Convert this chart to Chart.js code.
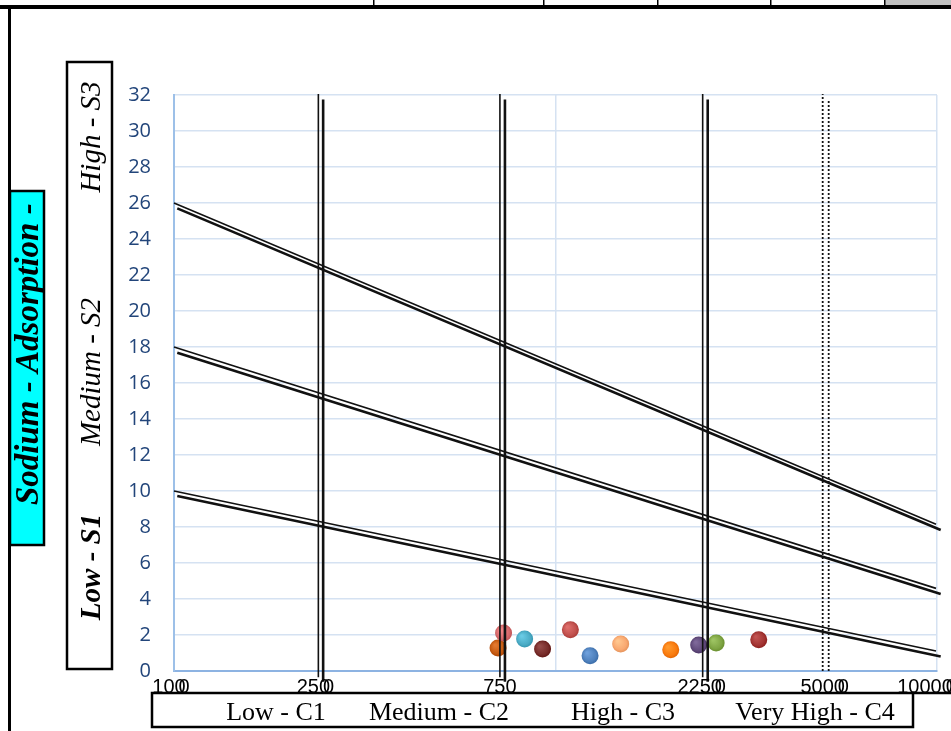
<!DOCTYPE html>
<html>
<head>
<meta charset="utf-8">
<script src="https://cdn.jsdelivr.net/npm/chart.js@4.4.1/dist/chart.umd.min.js"></script>
<style>
  html, body { margin: 0; padding: 0; background: #ffffff; overflow: hidden; }
  canvas { display: block; }
</style>
</head>
<body>
<canvas id="ussl" width="951" height="731"></canvas>
<script>
// Water samples: electrical conductivity (µS/cm) and sodium adsorption ratio
const sampleEC  = [707, 731, 830, 925, 1094, 1232, 1482, 2005, 2373, 2637, 3410];
const sampleSAR = [1.28, 2.11, 1.78, 1.22, 2.29, 0.85, 1.50, 1.18, 1.44, 1.56, 1.74];
const sampleColors = ['#C55A11', '#D5696B', '#4BACC6', '#772C2A', '#C0504D', '#4F81BD',
                      '#F9A870', '#F97B0F', '#604A7B', '#7FA544', '#A33533'];

// Sodium hazard boundaries (each drawn as a double stroke)
const sarS2S3Thin  = [[100, 26.0], [9941, 8.15]];
const sarS2S3Thick = [[102, 25.7], [10226, 7.83]];
const sarS1S2Thin  = [[100, 18.0], [9941, 4.59]];
const sarS1S2Thick = [[102, 17.68], [10226, 4.28]];
const sarS0S1Thin  = [[100, 10.0], [9941, 1.11]];
const sarS0S1Thick = [[102, 9.72], [10226, 0.80]];

// Salinity hazard boundaries (EC)
const ecBoundaryThin   = [239, 715, 2431];
const ecBoundaryThick  = [246, 737, 2506];
const ecBoundaryDotted = [5016, 5201];

// Axis text
const xTickLabels = ['100', '250', '750', '2250', '5000', '10000'];
const xTickAnchors = [100, 239, 715, 2431, 5016, 10000];
const salinityClasses = ['Low - C1', 'Medium - C2', 'High - C3', 'Very High - C4'];
const sodiumClasses = ['Low - S1', 'Medium - S2', 'High - S3'];
const sodiumTitle = 'Sodium - Adsorption -';

const pts = arr => arr.map(p => ({ x: p[0], y: p[1] }));
const lineSet = (data, width) => ({
  type: 'scatter', data: pts(data), showLine: true, borderColor: '#111111',
  borderWidth: width, pointRadius: 0, fill: false, clip: false, order: 0
});
const vLine = (x, y0, y1, width, dash) => ({
  type: 'scatter', data: [{ x: x, y: y0 }, { x: x, y: y1 }], showLine: true,
  borderColor: '#111111', borderWidth: width, borderDash: dash || [], pointRadius: 0,
  fill: false, clip: false, order: 0
});

// soft shaded marker fill
function shadeColor(hex, amt) {
  const n = parseInt(hex.slice(1), 16);
  const ch = s => Math.max(0, Math.min(255, Math.round(((n >> s) & 255) + amt)));
  return 'rgb(' + ch(16) + ',' + ch(8) + ',' + ch(0) + ')';
}
function markerFill(c) {
  const base = sampleColors[c.dataIndex];
  const chart = c.chart;
  if (!chart.scales || !chart.scales.x || !c.raw) return base;
  const px = chart.scales.x.getPixelForValue(c.raw.x);
  const py = chart.scales.y.getPixelForValue(c.raw.y);
  if (!isFinite(px) || !isFinite(py)) return base;
  const g = chart.ctx.createRadialGradient(px - 3, py - 3, 1, px, py, 9);
  g.addColorStop(0, shadeColor(base, 30));
  g.addColorStop(0.7, base);
  g.addColorStop(1, shadeColor(base, -25));
  return g;
}

const datasets = [
  lineSet(sarS2S3Thin, 1.6), lineSet(sarS2S3Thick, 2.6),
  lineSet(sarS1S2Thin, 1.6), lineSet(sarS1S2Thick, 2.6),
  lineSet(sarS0S1Thin, 1.6), lineSet(sarS0S1Thick, 2.6)
];
ecBoundaryThin.forEach(x => datasets.push(vLine(x, -0.35, 32.05, 1.6)));
ecBoundaryThick.forEach(x => datasets.push(vLine(x, -0.6, 31.75, 2.6)));
datasets.push(vLine(ecBoundaryDotted[0], 0, 32.05, 1.8, [2, 2]));
datasets.push(vLine(ecBoundaryDotted[1], 0, 31.75, 1.8, [2, 2]));
datasets.push({
  type: 'scatter',
  data: sampleEC.map((x, i) => ({ x: x, y: sampleSAR[i] })),
  pointRadius: 8.5, pointHoverRadius: 8.5,
  pointBackgroundColor: markerFill, pointBorderColor: 'rgba(0,0,0,0)', pointBorderWidth: 0,
  order: 1
});

// Frames, class boxes and hand-placed labels around the plot
const decorations = {
  id: 'decorations',
  afterDraw(chart) {
    const ctx = chart.ctx;
    const xs = chart.scales.x;
    ctx.save();

    // sheet border
    ctx.fillStyle = '#c0c0c0';
    ctx.fillRect(885, 0, 66, 5);
    ctx.fillStyle = '#000000';
    ctx.fillRect(0, 5, 951, 4);
    ctx.fillRect(8, 9, 3, 722);
    [373, 543, 657, 770, 884].forEach(x => ctx.fillRect(x, 0, 1.5, 6));

    // x tick labels
    ctx.font = '20px "Liberation Sans", Arial, sans-serif';
    ctx.fillStyle = '#000000';
    ctx.textAlign = 'center';
    ctx.textBaseline = 'alphabetic';
    const shifts = [-5, -5, 0, -3, 0, -12];
    xTickLabels.forEach((t, i) => {
      const cx = xs.getPixelForValue(xTickAnchors[i]) + shifts[i];
      ctx.fillText(t, cx, 693);
      if (t !== '750') {
        const w = ctx.measureText(t).width;
        const last = t.slice(-1);
        const lw = ctx.measureText(last).width;
        ctx.textAlign = 'left';
        ctx.fillText(last, cx + w / 2 - lw + 4, 693);
        ctx.textAlign = 'center';
      }
    });

    // salinity class box
    ctx.strokeStyle = '#000000';
    ctx.lineWidth = 2.5;
    ctx.fillStyle = '#ffffff';
    ctx.fillRect(152, 694, 761, 33);
    ctx.strokeRect(152, 693, 761, 34);
    ctx.beginPath();
    ctx.moveTo(913, 693);
    ctx.lineTo(951, 693);
    ctx.stroke();
    ctx.fillStyle = '#000000';
    ctx.font = '26px "Liberation Serif", "Times New Roman", serif';
    ctx.textAlign = 'center';
    [276, 439, 623, 815].forEach((cx, i) => ctx.fillText(salinityClasses[i], cx, 720));

    // sodium class box
    ctx.fillStyle = '#ffffff';
    ctx.fillRect(67, 62, 45, 607);
    ctx.strokeRect(67, 62, 45, 607);
    ctx.fillStyle = '#000000';
    const sodiumFonts = ['italic bold 29px "Liberation Serif", serif',
                         'italic 29px "Liberation Serif", serif',
                         'italic 29px "Liberation Serif", serif'];
    [567, 372, 137].forEach((cy, i) => {
      ctx.save();
      ctx.translate(100, cy);
      ctx.rotate(-Math.PI / 2);
      ctx.font = sodiumFonts[i];
      ctx.textAlign = 'center';
      ctx.fillText(sodiumClasses[i], 0, 0);
      ctx.restore();
    });

    // axis title box
    ctx.fillStyle = '#00FFFF';
    ctx.fillRect(10, 191, 34, 354);
    ctx.lineWidth = 2.5;
    ctx.strokeRect(10, 191, 34, 354);
    ctx.fillStyle = '#000000';
    ctx.save();
    ctx.translate(38, 505);
    ctx.rotate(-Math.PI / 2);
    ctx.font = 'italic bold 33px "Liberation Serif", serif';
    ctx.textAlign = 'left';
    ctx.fillText(sodiumTitle, 0, 0);
    ctx.restore();

    ctx.restore();
  }
};

new Chart(document.getElementById('ussl'), {
  type: 'scatter',
  data: { datasets: datasets },
  options: {
    responsive: false,
    animation: false,
    devicePixelRatio: 1,
    layout: { padding: { left: 0, right: 14, top: 95, bottom: 60 } },
    plugins: { legend: { display: false }, tooltip: { enabled: false } },
    scales: {
      x: {
        type: 'logarithmic', min: 100, max: 10000,
        afterBuildTicks: s => { s.ticks = [100, 1000, 10000].map(v => ({ value: v })); },
        afterFit: s => { s.height = 0; },
        ticks: { display: false },
        grid: { color: '#D5E2F2', lineWidth: 1.5, drawTicks: false },
        border: { color: '#8DB3E2', width: 2 }
      },
      y: {
        min: 0, max: 32,
        afterFit: s => { s.width = 174; },
        ticks: {
          stepSize: 2, padding: 23, color: '#22457A',
          font: { family: '"Open Sans", sans-serif', size: 20 }
        },
        grid: { color: '#D5E2F2', lineWidth: 1.5, drawTicks: false },
        border: { color: '#9DC0E8', width: 2 }
      }
    }
  },
  plugins: [decorations]
});
</script>
</body>
</html>
